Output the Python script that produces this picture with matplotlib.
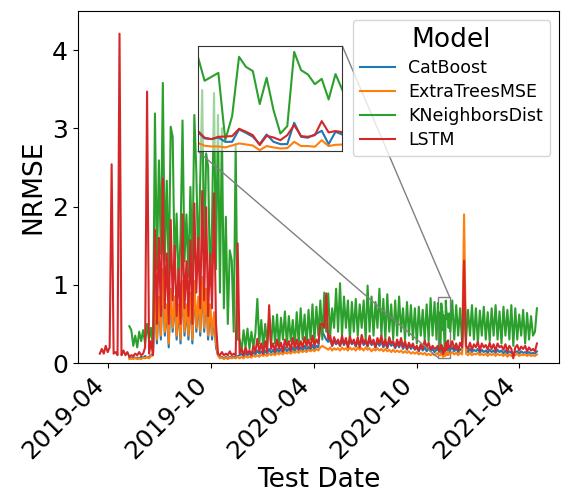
"""
NRMSE per test date for four forecasting models, with a zoomed inset
over three weeks in November 2020.
"""

import numpy as np
import pandas as pd
import matplotlib

matplotlib.use("Agg")
import matplotlib.pyplot as plt
import matplotlib.dates as mdates
from mpl_toolkits.axes_grid1.inset_locator import mark_inset

nan = np.nan

MODELS = ["CatBoost", "ExtraTreesMSE", "KNeighborsDist", "LSTM"]
COLORS = ["#1f77b4", "#ff7f0e", "#2ca02c", "#d62728"]

# Test dates: half-weekly samples, daily inside the zoom window
SERIES_START = "2019-03-17"
SERIES_PERIODS = 223
ZOOM_START = "2020-11-07"
ZOOM_DAYS = 21

catboost = [
    nan, nan, nan, nan, nan, nan, nan, nan, nan, nan,
    nan, nan, nan, nan, nan,
    0.07, 0.06, 0.08, 0.06, 0.07,
    0.06, 0.08, 0.07, 0.09, 0.07, 0.08, 0.1, 0.12,
    0.9, 0.25, 0.8, 0.3, 1.1, 0.35, 0.7, 0.2, 0.9, 0.4,
    0.8, 0.3, 0.7, 0.25, 1.0, 0.35, 0.7, 0.3, 0.85, 0.25,
    1.0, 0.4, 0.8, 0.35, 1.0, 0.4, 0.9, 0.3, 0.7, 0.3,
    0.6, 0.2, 0.1, 0.07, 0.08, 0.06, 0.08, 0.06, 0.08, 0.07,
    0.08, 0.07, 0.09,
    0.1, 0.12, 0.09, 0.13, 0.1, 0.12, 0.1, 0.14, 0.11, 0.16,
    0.12, 0.15, 0.11, 0.16, 0.12, 0.18, 0.13, 0.17, 0.12, 0.18,
    0.14, 0.18, 0.13, 0.2, 0.15, 0.19, 0.14, 0.2, 0.15, 0.21,
    0.16, 0.2, 0.15, 0.22, 0.17, 0.21, 0.16, 0.23, 0.18, 0.22,
    0.2, 0.5, 0.4, 0.35, 0.3, 0.27, 0.3, 0.22, 0.28, 0.24,
    0.27, 0.22, 0.29, 0.23, 0.28, 0.21, 0.29, 0.24, 0.27, 0.21,
    0.28, 0.22, 0.3, 0.23, 0.27, 0.21, 0.29, 0.23, 0.26, 0.2,
    0.27, 0.22, 0.28, 0.2, 0.26, 0.19, 0.27, 0.22, 0.25, 0.19,
    0.25, 0.2, 0.26, 0.18, 0.24, 0.17, 0.23, 0.18, 0.22, 0.17,
    0.2, 0.15, 0.21, 0.16, 0.2, 0.15, 0.19, 0.15, 0.18, 0.14, 0.17,
    0.17, 0.2, 0.15, 0.19, 0.14, 0.18, 0.15, 1.2, 0.17, 0.14,
    0.18, 0.14, 0.17, 0.15, 0.18, 0.13, 0.17, 0.14, 0.16, 0.13,
    0.17, 0.14, 0.16, 0.13, 0.17, 0.14, 0.16, 0.12, 0.16, 0.12,
    0.15, 0.13, 0.12, 0.14, 0.15, 0.12, 0.15, 0.13, 0.14, 0.12,
    0.14, 0.12, 0.13, 0.12, 0.15,
]
extratrees = [
    nan, nan, nan, nan, nan, nan, nan, nan, nan, nan,
    nan, nan, nan, nan, nan,
    0.05, 0.06, 0.05, 0.07, 0.05,
    0.06, 0.05, 0.07, 0.06, 0.08, 0.06, 0.09, 0.1,
    1.0, 0.3, 0.85, 0.35, 1.2, 0.4, 0.75, 0.25, 0.95, 0.45,
    0.85, 0.35, 0.75, 0.3, 1.05, 0.4, 0.75, 0.35, 0.9, 0.3,
    1.05, 0.45, 0.85, 0.4, 1.1, 0.45, 0.95, 0.35, 0.75, 0.35,
    0.65, 0.25, 0.1, 0.06, 0.07, 0.05, 0.07, 0.05, 0.07, 0.06,
    0.07, 0.06, 0.08,
    0.06, 0.08, 0.06, 0.09, 0.07, 0.08, 0.07, 0.1, 0.08, 0.1,
    0.08, 0.11, 0.09, 0.11, 0.09, 0.12, 0.1, 0.12, 0.1, 0.13,
    0.11, 0.13, 0.11, 0.14, 0.12, 0.14, 0.12, 0.15, 0.13, 0.15,
    0.13, 0.16, 0.14, 0.16, 0.14, 0.17, 0.15, 0.17, 0.15, 0.18,
    0.16, 0.2, 0.22, 0.2, 0.19, 0.17, 0.2, 0.16, 0.19, 0.17,
    0.19, 0.16, 0.2, 0.17, 0.19, 0.16, 0.2, 0.17, 0.19, 0.16,
    0.2, 0.17, 0.19, 0.16, 0.2, 0.17, 0.19, 0.15, 0.18, 0.16,
    0.19, 0.16, 0.18, 0.15, 0.18, 0.15, 0.17, 0.14, 0.17, 0.14,
    0.16, 0.14, 0.16, 0.13, 0.15, 0.13, 0.15, 0.12, 0.14, 0.12,
    0.14, 0.11, 0.13, 0.11, 0.13, 0.1, 0.12, 0.1, 0.12, 0.1, 0.12,
    0.12, 0.14, 0.11, 0.13, 0.1, 0.13, 0.11, 1.9, 0.12, 0.1,
    0.13, 0.1, 0.12, 0.11, 0.13, 0.1, 0.12, 0.1, 0.12, 0.09,
    0.12, 0.1, 0.12, 0.09, 0.12, 0.1, 0.11, 0.09, 0.12, 0.08,
    0.11, 0.09, 0.1, 0.1, 0.12, 0.09, 0.11, 0.1, 0.11, 0.09,
    0.11, 0.09, 0.1, 0.09, 0.11,
]
kneighbors = [
    nan, nan, nan, nan, nan, nan, nan, nan, nan, nan,
    nan, nan, nan, nan, nan,
    0.47, 0.42, 0.22, 0.35, 0.2,
    0.4, 0.28, 0.42, 0.25, 0.5, 0.3, 0.45, 0.2,
    3.19, 1.2, 2.59, 1.4, 3.58, 1.3, 2.33, 1.1, 3.02, 2.89,
    1.2, 1.91, 1.0, 1.6, 3.1, 1.3, 1.9, 1.1, 2.25, 1.2,
    3.17, 2.46, 1.2, 2.33, 3.49, 1.3, 2.68, 2.51, 1.0, 1.8,
    3.45, 1.2, 3.17, 0.9, 3.0, 0.7, 1.87, 0.5, 1.44, 1.31,
    0.4, 2.8, 0.3,
    0.3, 0.15, 0.42, 0.2, 0.44, 0.18, 0.4, 0.2, 0.38, 0.82,
    0.25, 0.55, 0.2, 0.5, 0.25, 0.57, 0.22, 0.6, 0.25, 0.62,
    0.2, 0.58, 0.3, 0.66, 0.22, 0.6, 0.28, 0.55, 0.2, 0.65,
    0.25, 0.7, 0.3, 0.62, 0.22, 0.68, 0.3, 0.75, 0.28, 0.72,
    0.35, 0.8, 0.3, 0.9, 0.4, 0.89, 0.35, 0.7, 0.45, 0.95,
    0.4, 1.02, 0.35, 0.85, 0.45, 0.8, 0.3, 0.78, 0.4, 0.82,
    0.35, 0.75, 0.45, 0.8, 0.3, 0.99, 0.4, 0.85, 0.35, 0.78,
    0.45, 0.95, 0.35, 0.82, 0.3, 0.88, 0.4, 0.75, 0.3, 0.8,
    0.35, 0.85, 0.4, 0.7, 0.3, 0.78, 0.35, 0.74, 0.3, 0.7,
    0.25, 0.72, 0.35, 0.68, 0.3, 0.75, 0.28, 0.83, 0.35, 0.78, 0.3,
    0.4, 0.8, 0.3, 0.74, 0.35, 0.7, 0.25, 0.72, 0.3, 0.68,
    0.35, 0.74, 0.3, 0.7, 0.25, 0.67, 0.35, 0.72, 0.3, 0.65,
    0.28, 0.7, 0.35, 0.74, 0.3, 0.66, 0.25, 0.72, 0.35, 0.68,
    0.3, 0.74, 0.22, 0.7, 0.3, 0.62, 0.35, 0.68, 0.25, 0.64,
    0.3, 0.6, 0.35, 0.4, 0.7,
]
lstm = [
    0.12, 0.18, 0.12, 0.22, 0.14, 0.2, 2.54, 0.12, 0.14, 0.1,
    4.21, 0.1, 0.16, 0.1, 0.14, 0.08, 0.1, 0.09, 0.12, 0.1,
    0.14, 0.1, 0.12, 0.2, 3.47, 0.12, 0.28, 0.1,
    1.7, 0.5, 1.6, 0.6, 2.36, 0.7, 1.4, 0.5, 1.83, 0.8,
    1.5, 0.6, 1.2, 0.5, 1.9, 0.7, 1.3, 0.6, 1.57, 0.5,
    2.04, 0.9, 1.6, 0.7, 2.2, 0.8, 1.99, 0.6, 1.4, 0.7,
    2.17, 0.5, 0.12, 0.1, 0.14, 0.1, 0.12, 0.1, 0.15, 0.1,
    0.12, 0.1, 1.53,
    0.12, 0.18, 0.1, 0.2, 0.12, 0.16, 0.1, 0.22, 0.14, 0.31,
    0.15, 0.25, 0.12, 0.28, 0.15, 0.74, 0.18, 0.25, 0.15, 0.3,
    0.18, 0.26, 0.15, 0.3, 0.2, 0.28, 0.16, 0.32, 0.2, 0.3,
    0.18, 0.28, 0.2, 0.33, 0.22, 0.3, 0.2, 0.35, 0.22, 0.3,
    0.25, 0.5, 0.5, 0.45, 0.89, 0.3, 0.35, 0.22, 0.33, 0.25,
    0.3, 0.22, 0.35, 0.24, 0.32, 0.2, 0.34, 0.25, 0.3, 0.22,
    0.33, 0.2, 0.36, 0.25, 0.3, 0.22, 0.35, 0.24, 0.3, 0.2,
    0.32, 0.25, 0.35, 0.22, 0.3, 0.2, 0.33, 0.25, 0.28, 0.2,
    0.3, 0.22, 0.32, 0.2, 0.28, 0.18, 0.26, 0.2, 0.25, 0.18,
    0.22, 0.16, 0.24, 0.18, 0.29, 0.2, 0.26, 0.17, 0.22, 0.18, 0.2,
    0.2, 0.28, 0.18, 0.25, 0.16, 0.26, 0.2, 1.31, 0.22, 0.18,
    0.26, 0.17, 0.24, 0.2, 0.27, 0.16, 0.25, 0.2, 0.23, 0.17,
    0.26, 0.18, 0.24, 0.16, 0.25, 0.2, 0.22, 0.17, 0.24, 0.15,
    0.22, 0.18, 0.06, 0.2, 0.23, 0.16, 0.21, 0.18, 0.22, 0.15,
    0.2, 0.16, 0.18, 0.15, 0.25,
]

# Daily values for 2020-11-07 .. 2020-11-27
catboost_zoom = [0.212, 0.163, 0.158, 0.17, 0.138, 0.138, 0.229, 0.204, 0.175, 0.121, 0.192,
                 0.138, 0.121, 0.121, 0.278, 0.175, 0.168, 0.192, 0.219, 0.121, 0.212]
extratrees_zoom = [0.131, 0.109, 0.104, 0.104, 0.097, 0.111, 0.126, 0.119, 0.111, 0.077, 0.107,
                   0.097, 0.089, 0.092, 0.138, 0.107, 0.107, 0.102, 0.15, 0.107, 0.116]
kneighbors_zoom = [0.767, 0.586, 0.615, 0.644, 0.151, 0.327, 0.762, 0.688, 0.657, 0.415, 0.608,
                   0.371, 0.199, 0.253, 0.798, 0.664, 0.632, 0.561, 0.6, 0.449, 0.635]
lstm_zoom = [0.219, 0.168, 0.158, 0.175, 0.177, 0.18, 0.234, 0.212, 0.187, 0.114, 0.182,
             0.17, 0.15, 0.187, 0.261, 0.18, 0.175, 0.187, 0.29, 0.207, 0.217]

TICK_FONT = 18
LABEL_FONT = 19


def build_dates():
    coarse = pd.date_range(SERIES_START, periods=SERIES_PERIODS, freq="84h")
    zoom = pd.date_range(ZOOM_START, periods=ZOOM_DAYS, freq="D")
    before = coarse[coarse < zoom[0]]
    after = coarse[coarse > zoom[-1]]
    return before, zoom, after


def join_series(coarse_vals, zoom_vals, n_before):
    coarse_vals = np.asarray(coarse_vals, dtype=float)
    return np.concatenate([coarse_vals[:n_before], zoom_vals, coarse_vals[n_before:]])


def main() -> None:
    before, zoom, after = build_dates()
    dates = before.append(zoom).append(after)
    series = [
        join_series(catboost, catboost_zoom, len(before)),
        join_series(extratrees, extratrees_zoom, len(before)),
        join_series(kneighbors, kneighbors_zoom, len(before)),
        join_series(lstm, lstm_zoom, len(before)),
    ]

    fig = plt.figure(figsize=(5.65, 4.98), dpi=100)
    ax = fig.add_axes([0.138, 0.271, 0.851, 0.707])

    for name, color, vals in zip(MODELS, COLORS, series):
        ax.plot(dates, vals, color=color, linewidth=1.5, label=name)

    ax.set_ylim(0, 4.5)
    ax.set_yticks([0, 1, 2, 3, 4])
    ax.xaxis.set_major_locator(mdates.MonthLocator(bymonth=[4, 10]))
    ax.xaxis.set_major_formatter(mdates.DateFormatter("%Y-%m"))
    ax.tick_params(labelsize=TICK_FONT)
    plt.setp(ax.get_xticklabels(), rotation=45, ha="right")
    ax.set_xlabel("Test Date", fontsize=LABEL_FONT, labelpad=2)
    ax.set_ylabel("NRMSE", fontsize=LABEL_FONT)

    ax.legend(title="Model", loc="upper right", fontsize=12.5, title_fontsize=19,
              labelspacing=0.35)

    # zoomed inset
    axins = ax.inset_axes([0.249, 0.602, 0.301, 0.298])
    for color, vals in zip(COLORS, series):
        axins.plot(dates, vals, color=color, linewidth=1.5)
    axins.set_xlim(zoom[0], zoom[0] + pd.Timedelta(days=ZOOM_DAYS))
    axins.set_ylim(0.07, 0.84)
    axins.set_xticks([])
    axins.set_yticks([])
    axins.patch.set_alpha(0.55)
    for sp in axins.spines.values():
        sp.set_edgecolor("0.2")
    mark_inset(ax, axins, loc1=1, loc2=3, fc="none", ec="0.5")

    fig.savefig("out.png", dpi=100)
    plt.close(fig)


if __name__ == "__main__":
    main()
